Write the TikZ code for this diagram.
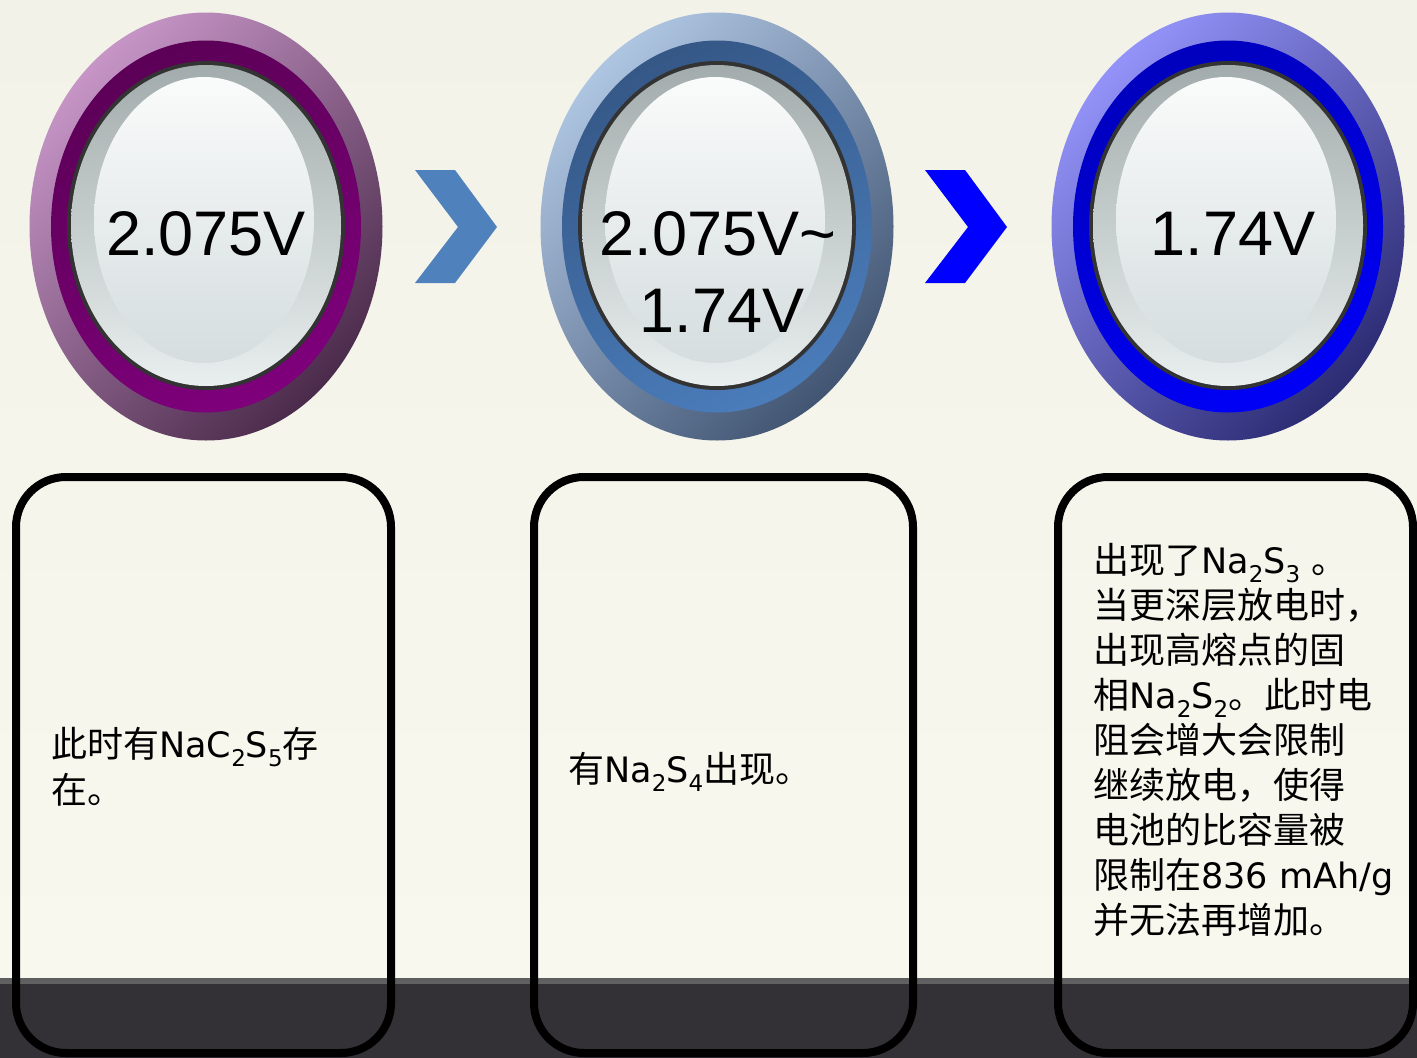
\documentclass[tikz,border=0pt]{standalone}
\usepackage{fontspec}
\setmainfont{Liberation Sans}
\newfontfamily\cjk{Noto Sans CJK SC}
\newfontfamily\dv{DejaVu Sans}
\definecolor{bgtop}{HTML}{F2F2E8}
\definecolor{bgbot}{HTML}{F8F8EF}
\definecolor{band}{HTML}{333135}
\definecolor{bandline}{HTML}{5E5E60}
\definecolor{lensA}{HTML}{A3ACAC}
\definecolor{lensB}{HTML}{E9EEEE}
\definecolor{hiA}{HTML}{FAFBFB}
\definecolor{hiB}{HTML}{D5DDDE}
\definecolor{pA}{HTML}{C695C6}
\definecolor{pM}{HTML}{863E86}
\definecolor{pB}{HTML}{4B2B4B}
\definecolor{pRa}{HTML}{5C0057}
\definecolor{pRb}{HTML}{7E007B}
\definecolor{bA}{HTML}{AEC5E2}
\definecolor{bM}{HTML}{5882BA}
\definecolor{bB}{HTML}{425674}
\definecolor{bRa}{HTML}{355887}
\definecolor{bRb}{HTML}{4A7CBA}
\definecolor{cA}{HTML}{9292F8}
\definecolor{cM}{HTML}{2F2FE6}
\definecolor{cB}{HTML}{2C2C74}
\definecolor{cRa}{HTML}{0000BE}
\definecolor{cRb}{HTML}{0000F6}
\definecolor{chevA}{HTML}{4F81BD}
\definecolor{chevB}{HTML}{0000FF}
\newcommand\mybutton[7]{%
  \shade[top color=#2, middle color=#3, bottom color=#4, shading angle=45]
    (#1,226.5) ellipse [x radius=176.5, y radius=214];
  \shade[top color=#5, bottom color=#6, shading angle=25]
    (#1,226.5) ellipse [x radius=155, y radius=186];
  \fill[black!80] (#1,225.5) ellipse [x radius=139, y radius=164.5];
  \shade[top color=lensA, bottom color=lensB] (#1,225.5) ellipse [x radius=135, y radius=160.5];
  \shade[top color=hiA, bottom color=hiB] (#1-2,220) ellipse [x radius=110, y radius=143];
}
\newcommand\la[1]{{\dv\fontsize{35}{45}\selectfont #1}}
\newcommand\sbs[1]{\raisebox{-9pt}{\dv\fontsize{23}{23}\selectfont #1}}
\tikzset{
  volt/.style={anchor=base, inner sep=0pt, font=\fontsize{63}{63}\selectfont, text=black},
  line/.style={anchor=base west, inner sep=0pt, font=\cjk\fontsize{36}{45}\selectfont, text=black},
  card/.style={draw=black, line width=8pt, rounded corners=50pt},
  chev/.style={draw=none}
}
\begin{document}
\begin{tikzpicture}[x=1pt, y=-1pt]
\useasboundingbox (0,0) rectangle (1417,1058);
% background
\shade[top color=bgtop, bottom color=bgbot] (0,0) rectangle (1417,978);
\fill[band] (0,978) rectangle (1417,1058);
\fill[bandline] (0,978) rectangle (1417,981);
\fill[black!62] (0,981) rectangle (1417,984);
% buttons
\mybutton{206}{pA}{pM}{pB}{pRa}{pRb}{}
\mybutton{717}{bA}{bM}{bB}{bRa}{bRb}{}
\mybutton{1228}{cA}{cM}{cB}{cRa}{cRb}{}
% chevrons
\fill[chevA] (415,170) -- (455,170) -- (497,227) -- (455,283) -- (415,283) -- (458,227) -- cycle;
\fill[chevB] (925,170) -- (965,170) -- (1007,227) -- (965,283) -- (925,283) -- (968,227) -- cycle;
% voltage labels
\node[volt] (v1) at (206,255) {2.075V};
\node[volt] (v2a) at (718,255) {2.075V\textasciitilde};
\node[volt] (v2b) at (722,332) {1.74V};
\node[volt] (v3) at (1233,255) {1.74V};
% cards
\draw[card] (16,477) rectangle (391,1053);
\draw[card] (534,477) rectangle (913,1053);
\draw[card] (1058,477) rectangle (1413,1053);
% card 1 text
\node[line] (t1a) at (51,757) {此时有\la{NaC}\sbs{2}\la{S}\sbs{5}存};
\node[line] (t1b) at (51,803) {在。};
% card 2 text
\node[line] (t2a) at (568,782) {有\la{Na}\sbs{2}\la{S}\sbs{4}出现。};
% card 3 text
\node[line] (t3a) at (1093,573) {出现了\la{Na}\sbs{2}\la{S}\sbs{3}\la{ }。};
\node[line] (t3b) at (1093,618) {当更深层放电时，};
\node[line] (t3c) at (1093,663) {出现高熔点的固};
\node[line] (t3d) at (1093,708) {相\la{Na}\sbs{2}\la{S}\sbs{2}。此时电};
\node[line] (t3e) at (1093,753) {阻会增大会限制};
\node[line] (t3f) at (1093,798) {继续放电，使得};
\node[line] (t3g) at (1093,843) {电池的比容量被};
\node[line] (t3h) at (1093,888) {限制在\la{836 mAh/g}};
\node[line] (t3i) at (1093,933) {并无法再增加。};
\end{tikzpicture}
\end{document}
